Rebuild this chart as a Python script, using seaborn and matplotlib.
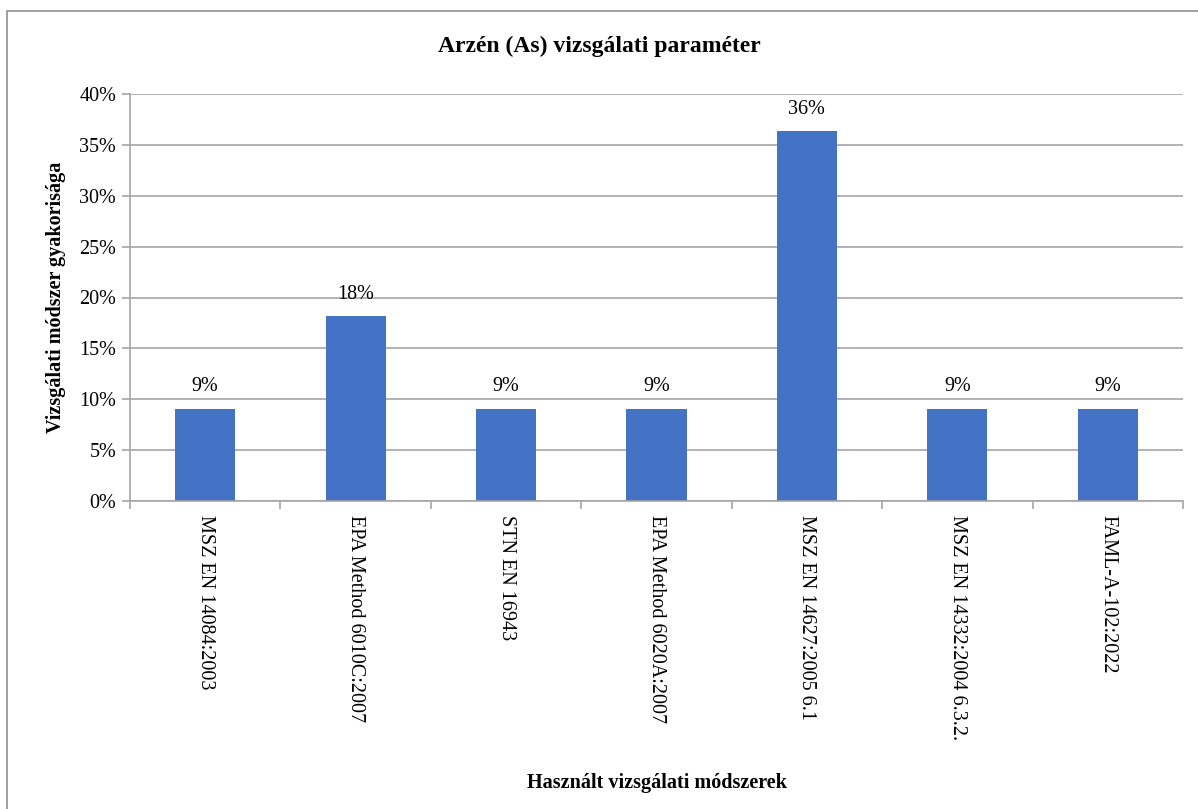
import matplotlib
matplotlib.use("Agg")
import matplotlib.pyplot as plt
import matplotlib.patches as mpatches
from matplotlib.ticker import FixedLocator, PercentFormatter
import seaborn as sns
import pandas as pd

# Method names and their share of all arsenic tests (in percent)
methods = [
    "MSZ EN 14084:2003",
    "EPA Method 6010C:2007",
    "STN EN 16943",
    "EPA Method 6020A:2007",
    "MSZ EN 14627:2005 6.1",
    "MSZ EN 14332:2004 6.3.2.",
    "FAML-A-102:2022",
]
shares = [9.09, 18.18, 9.09, 9.09, 36.36, 9.09, 9.09]
y_ticks = [0, 5, 10, 15, 20, 25, 30, 35, 40]

title = "Arzén (As) vizsgálati paraméter"
x_label = "Használt vizsgálati módszerek"
y_label = "Vizsgálati módszer gyakorisága"

df = pd.DataFrame({"method": methods, "share": shares})

sns.set_theme(style="white")
plt.rcParams["font.family"] = ["Liberation Serif", "DejaVu Serif"]
plt.rcParams["text.color"] = "black"
plt.rcParams["axes.labelcolor"] = "black"
plt.rcParams["xtick.color"] = "black"
plt.rcParams["ytick.color"] = "black"

W, H = 1198, 809
fig = plt.figure(figsize=(W / 100, H / 100), dpi=100)
fig.patch.set_facecolor("white")

# outer chart frame
fig.add_artist(mpatches.Rectangle((7 / W, -0.01), 1.0, 1 - 11 / H + 0.01,
                                  transform=fig.transFigure, fill=False,
                                  edgecolor="#999999", linewidth=1.3))

ax = fig.add_axes([130 / W, 1 - 501 / H, (1183 - 130) / W, (501 - 94) / H])

grid_col = "#a6a6a6"
sns.barplot(data=df, x="method", y="share", ax=ax, color="#4472C4",
            width=0.4, saturation=1, edgecolor="none")

ax.set_xlim(-0.5, len(methods) - 0.5)
ax.set_ylim(0, 40)
ax.set_yticks(y_ticks)
ax.yaxis.set_major_formatter(PercentFormatter(decimals=0))
ax.yaxis.grid(True, color=grid_col, linewidth=1.2)
ax.set_axisbelow(True)

for side in ["top", "right"]:
    ax.spines[side].set_visible(False)
for side in ["left", "bottom"]:
    ax.spines[side].set_color(grid_col)
    ax.spines[side].set_linewidth(1.2)

ax.tick_params(axis="y", which="major", length=6, width=1.2, color=grid_col,
               labelsize=14.5, labelcolor="black", pad=4, left=True)
ax.set_xticks(range(len(methods)))
ax.set_xticklabels(methods, rotation=-90, fontsize=14.5, va="top", ha="center",
                   color="black")
ax.tick_params(axis="x", which="major", length=0, pad=10, bottom=True)
ax.xaxis.set_minor_locator(FixedLocator([i - 0.5 for i in range(len(methods) + 1)]))
ax.tick_params(axis="x", which="minor", length=6, width=1.2, color=grid_col,
               bottom=True)

for i, v in enumerate(shares):
    ax.text(i, v + 1.2, f"{v:.0f}%", ha="center", va="bottom", fontsize=14.5,
            color="black")

ax.set_xlabel(x_label, fontsize=14.5, fontweight="bold", labelpad=0,
              color="black")
ax.xaxis.set_label_coords(0.5, (1 - 773 / H - (1 - 501 / H)) / ((501 - 94) / H))
ax.set_ylabel(y_label, fontsize=14.5, fontweight="bold", color="black")
ax.yaxis.set_label_coords((66 - 130) / (1183 - 130), 0.5)

fig.text(0.5, 1 - 46 / H, title, ha="center", va="center", fontsize=17,
         fontweight="bold", color="black")

fig.savefig("out.png", dpi=100, facecolor="white")
